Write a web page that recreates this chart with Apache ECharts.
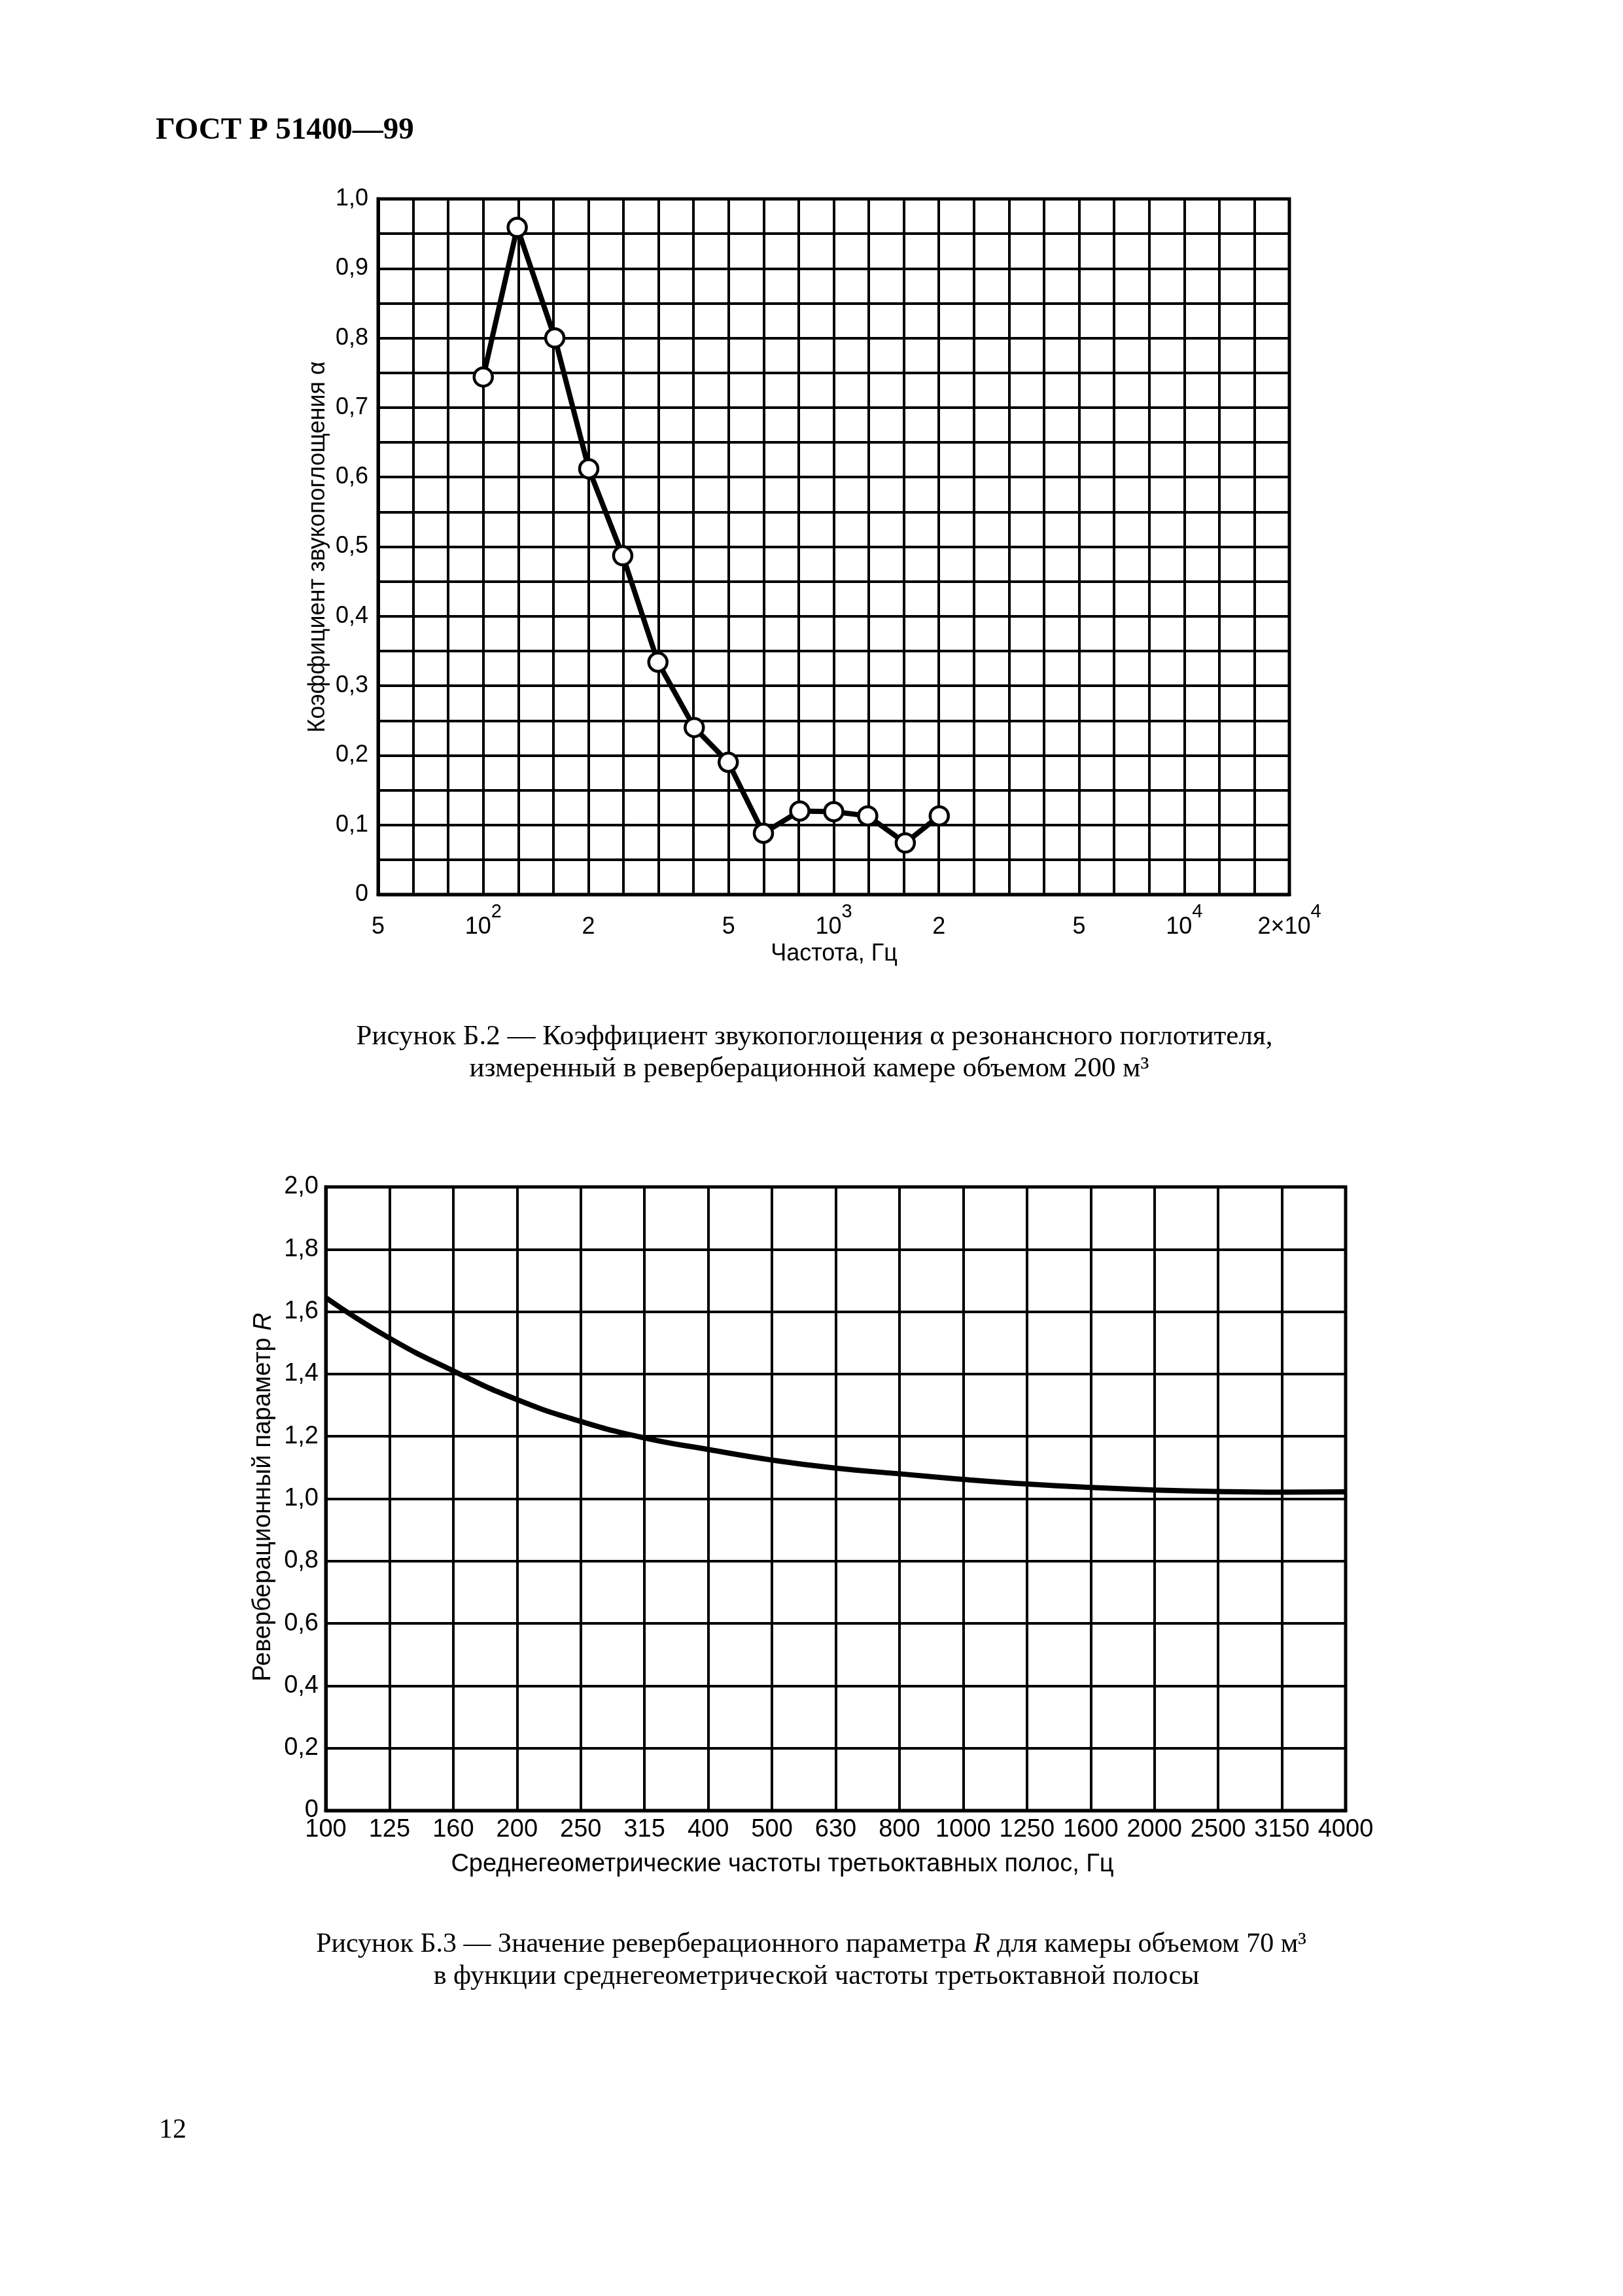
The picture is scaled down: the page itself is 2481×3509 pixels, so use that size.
<!DOCTYPE html>
<html>
<head>
<meta charset="utf-8">
<script src="https://cdn.jsdelivr.net/npm/echarts@6/dist/echarts.min.js"></script>
<style>
html,body{margin:0;padding:0;background:#fff;}
#c{width:2481px;height:3509px;}
</style>
</head>
<body>
<div id="c"></div>
<script>
// ---- Figure B.2 data (third-octave band centre frequencies, Hz) ----
var topFreqs = [100, 125, 160, 200, 250, 315, 400, 500, 630, 800, 1000, 1250, 1600, 2000];
var topAlpha = [0.744, 0.959, 0.800, 0.612, 0.487, 0.334, 0.240, 0.190, 0.088, 0.120, 0.119, 0.113, 0.074, 0.113];
// tick labels of the log frequency axis (key = 10*log10(f))
var topTickKeys  = [17, 20, 23, 27, 30, 33, 37, 40, 43];
var topTickBase  = ['5', '10', '2', '5', '10', '2', '5', '10', '2×10'];
var topTickSup   = ['', '2', '', '', '3', '', '', '4', '4'];

// ---- Figure B.3 data ----
var bottomCats = ['100','125','160','200','250','315','400','500','630','800','1000','1250','1600','2000','2500','3150','4000'];
var bottomR    = [1.645, 1.515, 1.410, 1.318, 1.248, 1.195, 1.158, 1.124, 1.098, 1.080, 1.062, 1.047, 1.036, 1.028, 1.023, 1.021, 1.022];

var SANS = "'Liberation Sans', Arial, Helvetica, sans-serif";
var SERIF = "'Liberation Serif', 'Times New Roman', serif";

function commaNum(v) {
  if (Math.abs(v) < 1e-9) return '0';
  return v.toFixed(1).replace('.', ',');
}

var chart = echarts.init(document.getElementById('c'), null, {renderer: 'canvas'});

var GRID_W = 4;
var FRAME_W = 5;

var option = {
  backgroundColor: '#ffffff',
  animation: false,
  textStyle: {fontFamily: SANS, color: '#000'},
  grid: [
    {left: 578, top: 304, width: 1393, height: 1063, show: true, borderColor: '#000', borderWidth: FRAME_W, containLabel: false},
    {left: 498, top: 1814, width: 1559, height: 953, show: true, borderColor: '#000', borderWidth: FRAME_W, containLabel: false}
  ],
  xAxis: [
    {
      gridIndex: 0, type: 'value', min: 1.7, max: 4.3, interval: 0.1,
      axisLine: {show: true, lineStyle: {color: '#000', width: FRAME_W}},
      axisTick: {show: false},
      splitLine: {show: true, lineStyle: {color: '#000', width: GRID_W}},
      axisLabel: {
        show: true, margin: 12, color: '#000', fontFamily: SANS, fontSize: 36,
        showMinLabel: true, showMaxLabel: true,
        formatter: function (v) {
          var k = Math.round(v * 10);
          var i = topTickKeys.indexOf(k);
          if (i < 0) return '';
          var s = '{b|' + topTickBase[i] + '}';
          if (topTickSup[i]) s += '{s|' + topTickSup[i] + '}';
          return s;
        },
        rich: {
          b: {fontSize: 36, fontFamily: SANS, color: '#000', lineHeight: 56, verticalAlign: 'bottom'},
          s: {fontSize: 29, fontFamily: SANS, color: '#000', lineHeight: 30, verticalAlign: 'top'}
        }
      }
    },
    {
      gridIndex: 1, type: 'category', data: bottomCats, boundaryGap: false,
      axisLine: {show: true, lineStyle: {color: '#000', width: FRAME_W}},
      axisTick: {show: false},
      splitLine: {show: true, interval: 0, lineStyle: {color: '#000', width: GRID_W}},
      axisLabel: {show: true, interval: 0, margin: 11, color: '#000', fontFamily: SANS, fontSize: 38}
    }
  ],
  yAxis: [
    {
      gridIndex: 0, type: 'value', min: 0, max: 1, interval: 0.05,
      axisLine: {show: true, lineStyle: {color: '#000', width: FRAME_W}},
      axisTick: {show: false},
      splitLine: {show: true, lineStyle: {color: '#000', width: GRID_W}},
      axisLabel: {
        show: true, margin: 15, color: '#000', fontFamily: SANS, fontSize: 36,
        formatter: function (v) {
          var k = Math.round(v * 20);
          if (k % 2 !== 0) return '';
          return commaNum(v);
        }
      }
    },
    {
      gridIndex: 1, type: 'value', min: 0, max: 2, interval: 0.2,
      axisLine: {show: true, lineStyle: {color: '#000', width: FRAME_W}},
      axisTick: {show: false},
      splitLine: {show: true, lineStyle: {color: '#000', width: GRID_W}},
      axisLabel: {
        show: true, margin: 11, color: '#000', fontFamily: SANS, fontSize: 38,
        formatter: function (v) { return commaNum(v); }
      }
    }
  ],
  series: [
    {
      type: 'line', xAxisIndex: 0, yAxisIndex: 0,
      data: topFreqs.map(function (f, i) { return [Math.log10(f), topAlpha[i]]; }),
      symbol: 'circle', symbolSize: 28, showAllSymbol: true,
      lineStyle: {color: '#000', width: 8},
      itemStyle: {color: '#fff', borderColor: '#000', borderWidth: 4.5},
      z: 5
    },
    {
      type: 'line', xAxisIndex: 1, yAxisIndex: 1,
      data: bottomR, smooth: true, symbol: 'none',
      lineStyle: {color: '#000', width: 8},
      z: 5
    }
  ],
  graphic: [
    {type: 'text', left: 238, top: 176, style: {text: 'ГОСТ Р 51400—99', font: 'bold 47px ' + SERIF, fill: '#000'}},
    // top chart axis titles
    {type: 'text', x: 486, y: 836, rotation: Math.PI / 2,
      style: {text: 'Коэффициент звукопоглощения α', font: '36px ' + SANS, fill: '#000', align: 'center', verticalAlign: 'middle'}},
    {type: 'text', x: 1275, y: 1458,
      style: {text: 'Частота, Гц', font: '36px ' + SANS, fill: '#000', align: 'center', verticalAlign: 'middle'}},
    // caption B.2
    {type: 'text', x: 1245, y: 1585,
      style: {text: 'Рисунок Б.2 — Коэффициент звукопоглощения α резонансного поглотителя,', font: '43px ' + SERIF, fill: '#000', align: 'center', verticalAlign: 'middle'}},
    {type: 'text', x: 1237, y: 1634,
      style: {text: 'измеренный в реверберационной камере объемом 200 м³', font: '43px ' + SERIF, fill: '#000', align: 'center', verticalAlign: 'middle'}},
    // bottom chart axis titles
    {type: 'text', x: 403, y: 2288, rotation: Math.PI / 2,
      style: {text: '{n|Реверберационный параметр }{i|R}', fill: '#000', align: 'center', verticalAlign: 'middle',
        rich: {n: {fontFamily: SANS, fontSize: 38, fill: '#000'}, i: {fontFamily: SANS, fontSize: 38, fontStyle: 'italic', fill: '#000'}}}},
    {type: 'text', x: 1196, y: 2850,
      style: {text: 'Среднегеометрические частоты третьоктавных полос, Гц', font: '38px ' + SANS, fill: '#000', align: 'center', verticalAlign: 'middle'}},
    // caption B.3
    {type: 'text', x: 1240, y: 2972,
      style: {text: '{n|Рисунок Б.3 — Значение реверберационного параметра }{i|R}{n| для камеры объемом 70 м³}', align: 'center', verticalAlign: 'middle',
        rich: {n: {fontFamily: SERIF, fontSize: 42, fill: '#000'}, i: {fontFamily: SERIF, fontSize: 42, fontStyle: 'italic', fill: '#000'}}}},
    {type: 'text', x: 1248, y: 3021,
      style: {text: 'в функции среднегеометрической частоты третьоктавной полосы', font: '42px ' + SERIF, fill: '#000', align: 'center', verticalAlign: 'middle'}},
    // page number
    {type: 'text', x: 264, y: 3256,
      style: {text: '12', font: '42px ' + SERIF, fill: '#000', align: 'center', verticalAlign: 'middle'}}
  ]
};

chart.setOption(option);
</script>
</body>
</html>
